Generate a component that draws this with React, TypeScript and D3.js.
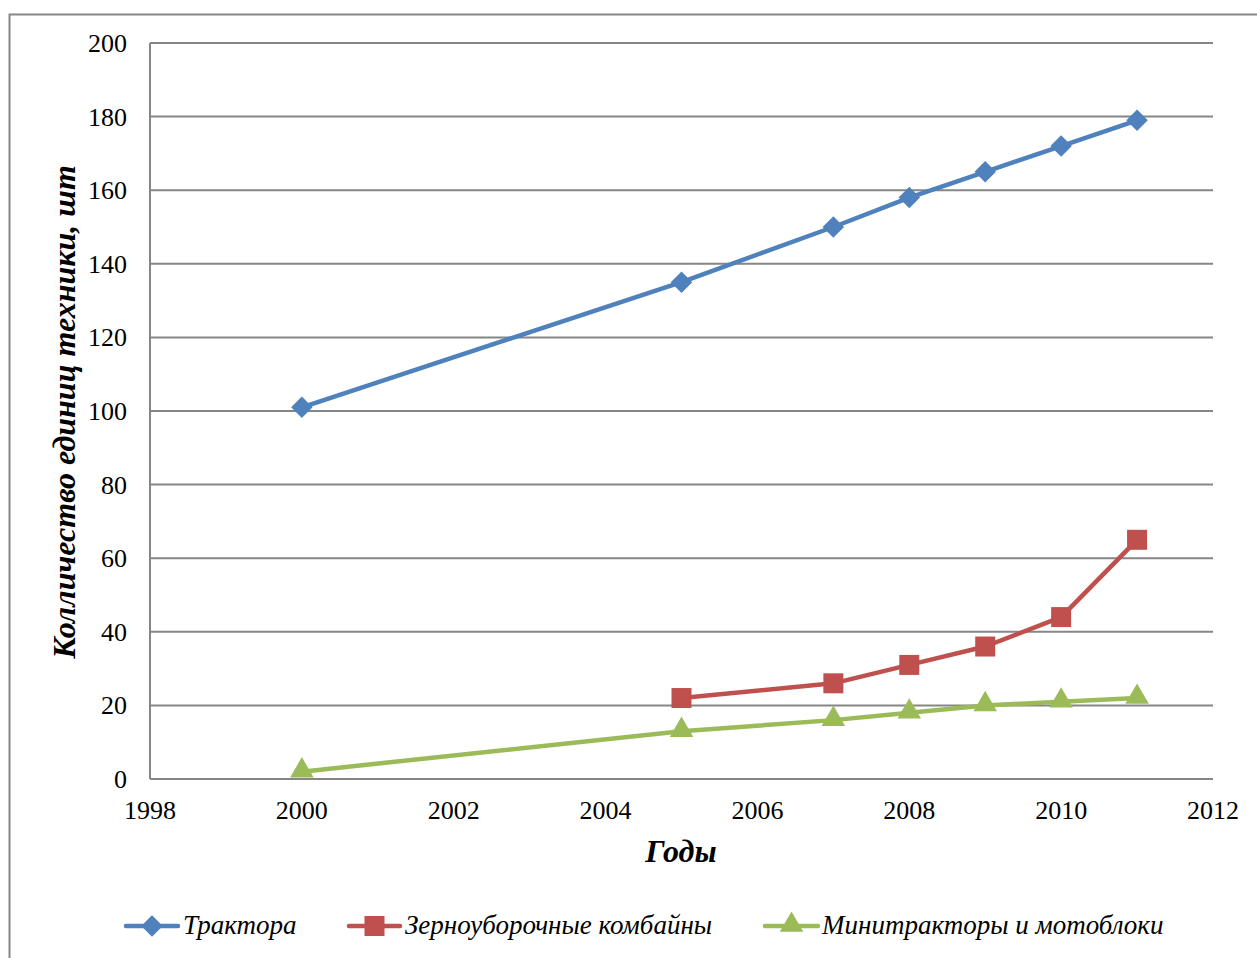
import React, { useEffect, useRef } from 'react';
import * as d3 from 'd3';

const years = [2000, 2005, 2007, 2008, 2009, 2010, 2011];
const tractors = [101, 135, 150, 158, 165, 172, 179];
const combineYears = [2005, 2007, 2008, 2009, 2010, 2011];
const combines = [22, 26, 31, 36, 44, 65];
const miniTractors = [2, 13, 16, 18, 20, 21, 22];
const xTicks = [1998, 2000, 2002, 2004, 2006, 2008, 2010, 2012];
const yTicks = [0, 20, 40, 60, 80, 100, 120, 140, 160, 180, 200];

const seriesNames = ['Трактора', 'Зерноуборочные комбайны', 'Минитракторы и мотоблоки'];

const App = () => {
  const svgRef = useRef<SVGSVGElement>(null);

  useEffect(() => {
    const width = 1257;
    const height = 958;
    const margin = { top: 43, right: 44, bottom: 179, left: 150 };
    const font = "'Liberation Serif', 'Times New Roman', serif";

    d3.select(svgRef.current).selectAll('*').remove();
    const svg = d3.select(svgRef.current)
      .attr('width', width)
      .attr('height', height)
      .style('font-family', font);

    // outer frame
    svg.append('rect')
      .attr('x', 9.5).attr('y', 14.5)
      .attr('width', width + 10).attr('height', height + 10)
      .attr('fill', 'none')
      .attr('stroke', '#868686')
      .attr('stroke-width', 2);

    const x = d3.scaleLinear().domain([1998, 2012]).range([margin.left, width - margin.right]);
    const y = d3.scaleLinear().domain([0, 200]).range([height - margin.bottom, margin.top]);

    // gridlines
    svg.append('g')
      .selectAll('line')
      .data(yTicks.filter(d => d > 0))
      .join('line')
      .attr('x1', margin.left).attr('x2', width - margin.right)
      .attr('y1', d => y(d)).attr('y2', d => y(d))
      .attr('stroke', '#868686')
      .attr('stroke-width', 2);

    // axes lines
    svg.append('line')
      .attr('x1', margin.left).attr('x2', margin.left)
      .attr('y1', y(200)).attr('y2', y(0))
      .attr('stroke', '#868686').attr('stroke-width', 2);
    svg.append('line')
      .attr('x1', margin.left).attr('x2', width - margin.right)
      .attr('y1', y(0)).attr('y2', y(0))
      .attr('stroke', '#868686').attr('stroke-width', 2);

    // tick labels
    svg.append('g')
      .selectAll('text')
      .data(yTicks)
      .join('text')
      .attr('x', 127)
      .attr('y', d => y(d) + 9)
      .attr('text-anchor', 'end')
      .style('font-family', font)
      .style('font-size', '26px')
      .text(d => d);

    svg.append('g')
      .selectAll('text')
      .data(xTicks)
      .join('text')
      .attr('x', d => x(d))
      .attr('y', 819)
      .attr('text-anchor', 'middle')
      .style('font-family', font)
      .style('font-size', '26px')
      .text(d => d);

    // axis titles
    svg.append('text')
      .attr('transform', `translate(75, 412) rotate(-90)`)
      .attr('text-anchor', 'middle')
      .style('font-family', font)
      .style('font-size', '32px')
      .style('font-weight', 'bold')
      .style('font-style', 'italic')
      .text('Колличество единиц техники, шт');

    svg.append('text')
      .attr('x', 681).attr('y', 862)
      .attr('text-anchor', 'middle')
      .style('font-family', font)
      .style('font-size', '32px')
      .style('font-weight', 'bold')
      .style('font-style', 'italic')
      .text('Годы');

    const colors = ['#4F81BD', '#C0504D', '#9BBB59'];
    const line = d3.line<[number, number]>().x(d => x(d[0])).y(d => y(d[1]));

    const series: [number, number][][] = [
      years.map((yr, i) => [yr, tractors[i]]),
      combineYears.map((yr, i) => [yr, combines[i]]),
      years.map((yr, i) => [yr, miniTractors[i]]),
    ];

    const symbols = [
      d3.symbol().type(d3.symbolSquare).size(230),
      d3.symbol().type(d3.symbolSquare).size(400),
      d3.symbol().type(d3.symbolTriangle).size(240),
    ];

    const drawMarker = (g: any, i: number, cx: number, cy: number) => {
      if (i === 0) {
        g.append('path')
          .attr('d', symbols[0]())
          .attr('transform', `translate(${cx},${cy}) rotate(45)`)
          .attr('fill', colors[0]);
      } else if (i === 1) {
        g.append('path')
          .attr('d', symbols[1]())
          .attr('transform', `translate(${cx},${cy})`)
          .attr('fill', colors[1]);
      } else {
        g.append('path')
          .attr('d', symbols[2]())
          .attr('transform', `translate(${cx},${cy - 1})`)
          .attr('fill', colors[2]);
      }
    };

    series.forEach((pts, i) => {
      const g = svg.append('g');
      g.append('path')
        .attr('d', line(pts))
        .attr('fill', 'none')
        .attr('stroke', colors[i])
        .attr('stroke-width', 4.5)
        .attr('stroke-linejoin', 'round');
      pts.forEach(p => drawMarker(g, i, x(p[0]), y(p[1])));
    });

    // legend
    const legendItems = [
      { x1: 126, x2: 178, tx: 183 },
      { x1: 349, x2: 400, tx: 405 },
      { x1: 765, x2: 818, tx: 822 },
    ];
    const ly = 926;
    legendItems.forEach((it, i) => {
      const g = svg.append('g');
      g.append('line')
        .attr('x1', it.x1).attr('x2', it.x2)
        .attr('y1', ly).attr('y2', ly)
        .attr('stroke', colors[i])
        .attr('stroke-width', 4.5)
        .attr('stroke-linecap', 'round');
      drawMarker(g, i, (it.x1 + it.x2) / 2, ly);
      g.append('text')
        .attr('x', it.tx).attr('y', ly + 8)
        .style('font-family', font)
        .style('font-size', '27px')
        .style('font-style', 'italic')
        .text(seriesNames[i]);
    });
  }, []);

  return (
    <div style={{ position: 'absolute', left: 0, top: 0 }}>
      <svg ref={svgRef}></svg>
    </div>
  );
};

export default App;
